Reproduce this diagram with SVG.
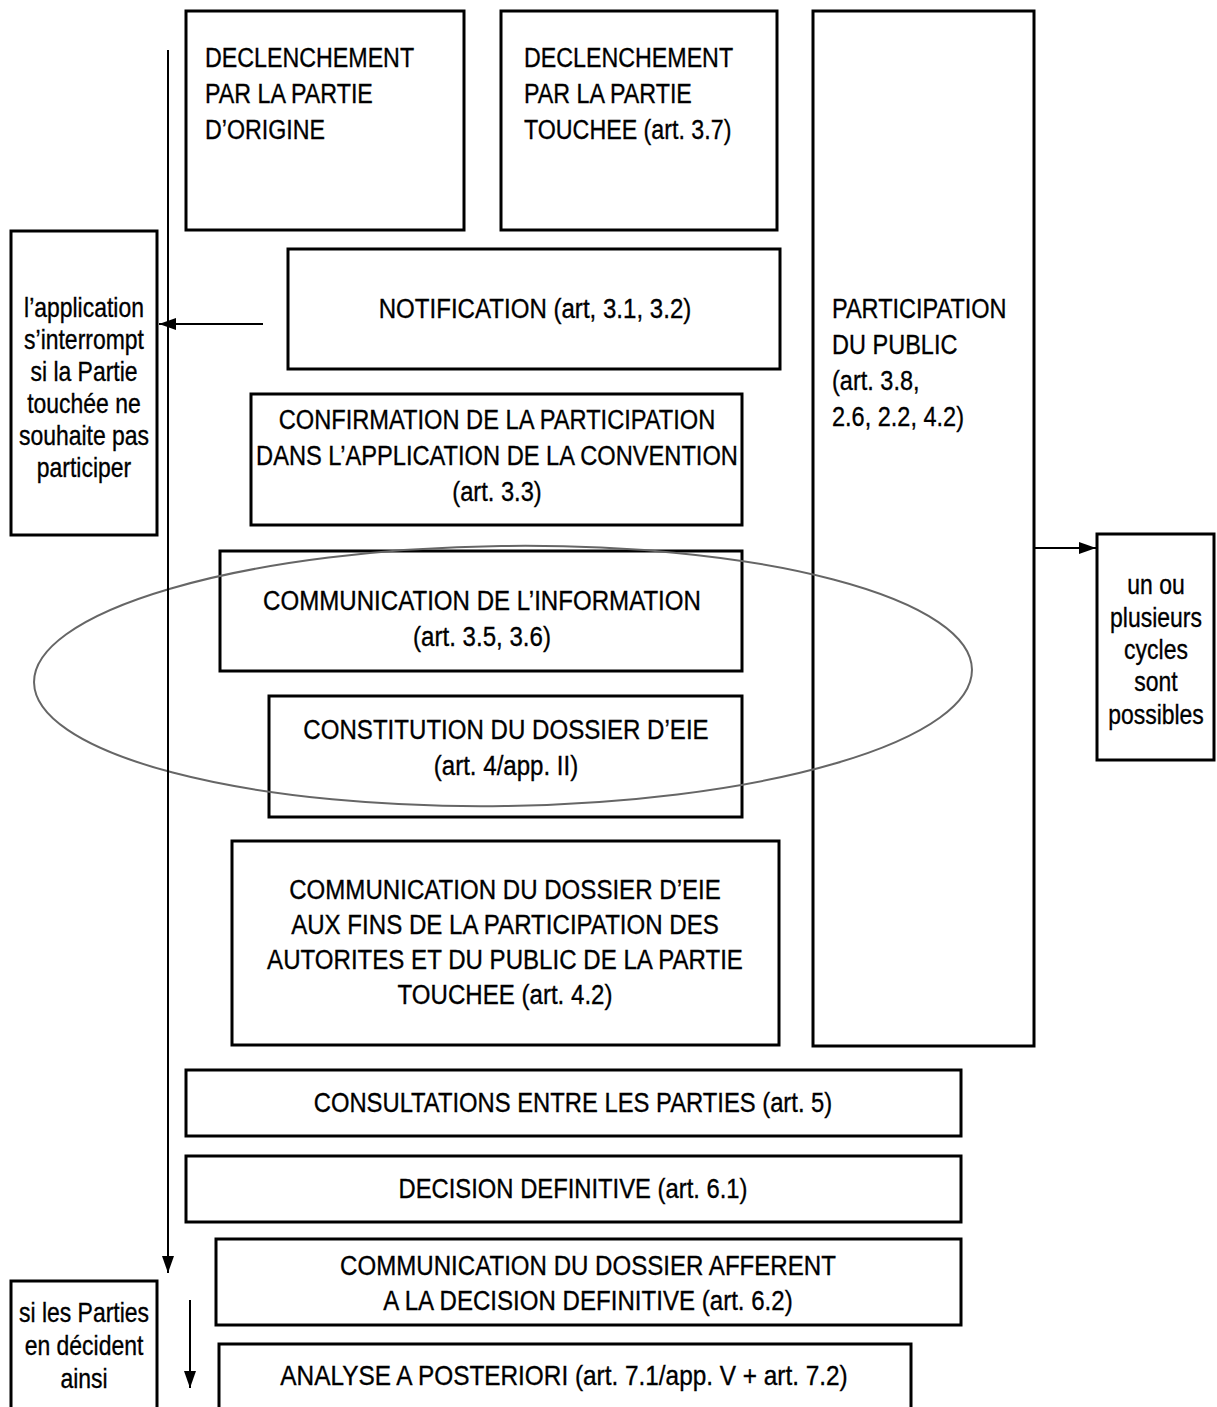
<svg xmlns="http://www.w3.org/2000/svg" width="1217" height="1407" viewBox="0 0 1217 1407">
<defs>
<style>
.box{fill:#fff;stroke:#000;stroke-width:3}
.t{font-family:"Liberation Sans",Arial,sans-serif;font-size:28px;fill:#000;stroke:#000;stroke-width:0.35}
.c{text-anchor:middle}
.ln{stroke:#000;stroke-width:2;fill:none}
</style>
<marker id="ahv" viewBox="0 0 17 12" refX="17" refY="6" markerWidth="17" markerHeight="12" markerUnits="userSpaceOnUse" orient="auto">
<path d="M0,0 L17,6 L0,12 Z" fill="#000"/>
</marker>
</defs>
<rect width="1217" height="1407" fill="#fff"/>

<g id="n-declenchement-origine">
<rect class="box" x="186" y="11" width="278" height="219"/>
<text class="t" transform="translate(205 0) scale(0.83 1)"><tspan x="0" y="67">DECLENCHEMENT</tspan><tspan x="0" y="103">PAR LA PARTIE</tspan><tspan x="0" y="139">D’ORIGINE</tspan></text>
</g>

<g id="n-declenchement-touchee">
<rect class="box" x="501" y="11" width="276" height="219"/>
<text class="t" transform="translate(524 0) scale(0.83 1)"><tspan x="0" y="67">DECLENCHEMENT</tspan><tspan x="0" y="103">PAR LA PARTIE</tspan><tspan x="0" y="139">TOUCHEE (art. 3.7)</tspan></text>
</g>

<g id="n-participation">
<rect class="box" x="813" y="11" width="221" height="1035"/>
<text class="t" transform="translate(832 0) scale(0.84 1)"><tspan x="0" y="318">PARTICIPATION</tspan><tspan x="0" y="354">DU PUBLIC</tspan><tspan x="0" y="390">(art. 3.8,</tspan><tspan x="0" y="426">2.6, 2.2, 4.2)</tspan></text>
</g>

<g id="n-interrompt">
<rect class="box" x="11" y="231" width="146" height="304"/>
<text class="t c" transform="translate(84 0) scale(0.82 1)"><tspan x="0" y="317">l’application</tspan><tspan x="0" y="349">s’interrompt</tspan><tspan x="0" y="381">si la Partie</tspan><tspan x="0" y="413">touchée ne</tspan><tspan x="0" y="445">souhaite pas</tspan><tspan x="0" y="477">participer</tspan></text>
</g>

<g id="n-notification">
<rect class="box" x="288" y="249" width="492" height="120"/>
<text class="t c" transform="translate(535 0) scale(0.86 1)" x="0" y="318">NOTIFICATION (art, 3.1, 3.2)</text>
</g>

<g id="n-confirmation">
<rect class="box" x="251" y="394" width="491" height="131"/>
<text class="t c" transform="translate(497 0) scale(0.845 1)"><tspan x="0" y="429">CONFIRMATION DE LA PARTICIPATION</tspan><tspan x="0" y="465">DANS L’APPLICATION DE LA CONVENTION</tspan><tspan x="0" y="501">(art. 3.3)</tspan></text>
</g>

<g id="n-communication-info">
<rect class="box" x="220" y="551" width="522" height="120"/>
<text class="t c" transform="translate(482 0) scale(0.86 1)"><tspan x="0" y="610">COMMUNICATION DE L’INFORMATION</tspan><tspan x="0" y="646">(art. 3.5, 3.6)</tspan></text>
</g>

<g id="n-constitution">
<rect class="box" x="269" y="696" width="473" height="121"/>
<text class="t c" transform="translate(506 0) scale(0.86 1)"><tspan x="0" y="739">CONSTITUTION DU DOSSIER D’EIE</tspan><tspan x="0" y="775">(art. 4/app. II)</tspan></text>
</g>

<g id="n-communication-eie">
<rect class="box" x="232" y="841" width="547" height="204"/>
<text class="t c" transform="translate(505 0) scale(0.86 1)"><tspan x="0" y="899">COMMUNICATION DU DOSSIER D’EIE</tspan><tspan x="0" y="934">AUX FINS DE LA PARTICIPATION DES</tspan><tspan x="0" y="969">AUTORITES ET DU PUBLIC DE LA PARTIE</tspan><tspan x="0" y="1004">TOUCHEE (art. 4.2)</tspan></text>
</g>

<g id="n-consultations">
<rect class="box" x="186" y="1070" width="775" height="66"/>
<text class="t c" transform="translate(573 0) scale(0.85 1)" x="0" y="1112">CONSULTATIONS ENTRE LES PARTIES (art. 5)</text>
</g>

<g id="n-decision">
<rect class="box" x="186" y="1156" width="775" height="66"/>
<text class="t c" transform="translate(573 0) scale(0.85 1)" x="0" y="1198">DECISION DEFINITIVE (art. 6.1)</text>
</g>

<g id="n-communication-decision">
<rect class="box" x="216" y="1239" width="745" height="86"/>
<text class="t c" transform="translate(588 0) scale(0.86 1)"><tspan x="0" y="1275">COMMUNICATION DU DOSSIER AFFERENT</tspan><tspan x="0" y="1310">A LA DECISION DEFINITIVE (art. 6.2)</tspan></text>
</g>

<g id="n-analyse">
<rect class="box" x="219" y="1344" width="692" height="80"/>
<text class="t c" transform="translate(564 0) scale(0.87 1)" x="0" y="1385">ANALYSE A POSTERIORI (art. 7.1/app. V + art. 7.2)</text>
</g>

<g id="n-si-parties">
<rect class="box" x="11" y="1281" width="146" height="140"/>
<text class="t c" transform="translate(84 0) scale(0.82 1)"><tspan x="0" y="1322">si les Parties</tspan><tspan x="0" y="1355">en décident</tspan><tspan x="0" y="1388">ainsi</tspan></text>
</g>

<g id="n-cycles">
<rect class="box" x="1097" y="534" width="117" height="226"/>
<text class="t c" transform="translate(1156 0) scale(0.82 1)"><tspan x="0" y="594">un ou</tspan><tspan x="0" y="627">plusieurs</tspan><tspan x="0" y="659">cycles</tspan><tspan x="0" y="691">sont</tspan><tspan x="0" y="724">possibles</tspan></text>
</g>

<g id="ellipse">
<ellipse cx="503" cy="676" rx="469" ry="130" fill="none" stroke="#666" stroke-width="2" transform="rotate(-0.8 503 676)"/>
</g>

<g id="connectors">
<line class="ln" x1="168" y1="50" x2="168" y2="1273" marker-end="url(#ahv)"/>
<line class="ln" x1="263" y1="324" x2="159" y2="324" marker-end="url(#ahv)"/>
<line class="ln" x1="1034" y1="548" x2="1096" y2="548" marker-end="url(#ahv)"/>
<line class="ln" x1="190" y1="1300" x2="190" y2="1388" marker-end="url(#ahv)"/>
</g>
</svg>
